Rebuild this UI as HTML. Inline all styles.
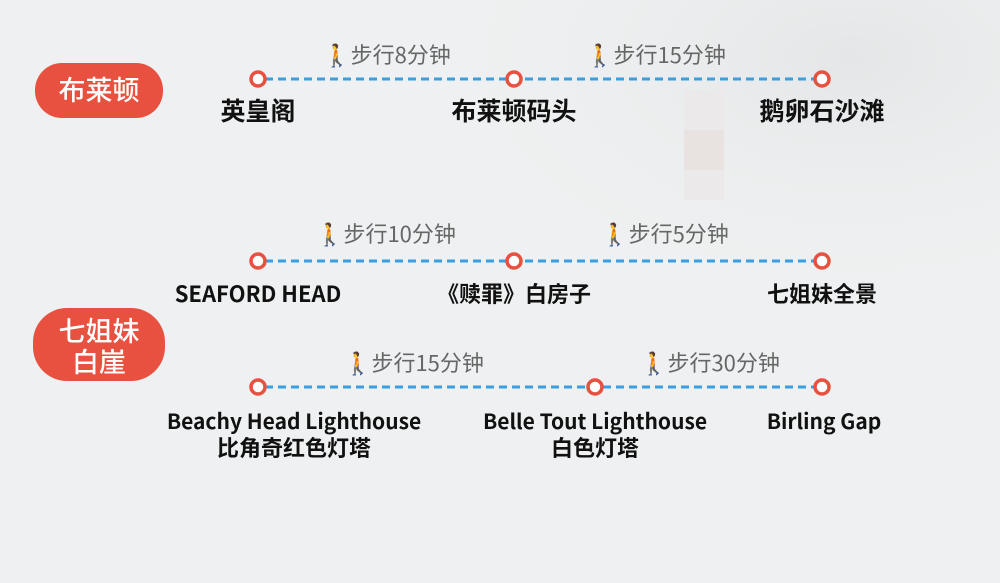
<!DOCTYPE html>
<html><head><meta charset="utf-8"><style>
body{margin:0;width:1000px;height:583px;overflow:hidden;background:#eef0f1;}
text{font-family:"Noto Sans CJK SC","Liberation Sans",sans-serif;}
</style></head><body>
<svg width="1000" height="583" xmlns="http://www.w3.org/2000/svg" style="display:block">
<defs><radialGradient id="g" cx="0.85" cy="0.1" r="0.45"><stop offset="0" stop-color="#e4e6e7"/><stop offset="1" stop-color="#eef0f1" stop-opacity="0"/></radialGradient></defs>
<rect width="1000" height="583" fill="#eef0f1"/>
<rect width="1000" height="583" fill="url(#g)"/>
<rect x="684" y="90" width="40" height="110" fill="#ebe9e9"/>
<rect x="684" y="130" width="40" height="40" fill="#e8e2e1"/>
<rect x="35" y="63" width="128" height="55" rx="27" fill="#e8513f"/>
<text x="99" y="100" font-size="27" font-weight="500" fill="#fff" text-anchor="middle">布莱顿</text>
<rect x="33" y="308" width="132" height="73" rx="34" fill="#e8513f"/>
<text x="99" y="341" font-size="27" font-weight="500" fill="#fff" text-anchor="middle">七姐妹</text>
<text x="99" y="372" font-size="27" font-weight="500" fill="#fff" text-anchor="middle">白崖</text>
<g stroke="#3a9fe2" stroke-width="3" stroke-dasharray="8,5">
<line x1="265" y1="79" x2="815" y2="79"/>
<line x1="265" y1="261" x2="815" y2="261"/>
<line x1="265" y1="387" x2="815" y2="387"/>
</g>
<g fill="#fff" stroke="#e8513f" stroke-width="3.5">
<circle cx="258" cy="79" r="7"/><circle cx="514" cy="79" r="7"/><circle cx="822" cy="79" r="7"/>
<circle cx="258" cy="261" r="7"/><circle cx="514" cy="261" r="7"/><circle cx="822" cy="261" r="7"/>
<circle cx="258" cy="387" r="7"/><circle cx="595" cy="387" r="7"/><circle cx="822" cy="387" r="7"/>
</g>
<g font-size="22" fill="#666" text-anchor="middle">
<text x="387" y="63">🚶步行8分钟</text>
<text x="656" y="63">🚶步行15分钟</text>
<text x="386" y="242">🚶步行10分钟</text>
<text x="665" y="242">🚶步行5分钟</text>
<text x="414" y="371">🚶步行15分钟</text>
<text x="710" y="371">🚶步行30分钟</text>
</g>
<g font-size="25" font-weight="bold" fill="#111" text-anchor="middle">
<text x="258" y="120">英皇阁</text>
<text x="514" y="120">布莱顿码头</text>
<text x="822" y="120">鹅卵石沙滩</text>
</g>
<g font-size="22" font-weight="bold" fill="#111" text-anchor="middle">
<text x="258" y="302">SEAFORD HEAD</text>
<text x="514" y="302">《赎罪》白房子</text>
<text x="822" y="302">七姐妹全景</text>
<text x="294" y="456">比角奇红色灯塔</text>
<text x="595" y="456">白色灯塔</text>
</g>
<g font-size="21" font-weight="bold" fill="#111" text-anchor="middle">
<text x="294" y="429">Beachy Head Lighthouse</text>
<text x="595" y="429">Belle Tout  Lighthouse</text>
<text x="824" y="429">Birling Gap</text>
</g>
</svg>
</body></html>
